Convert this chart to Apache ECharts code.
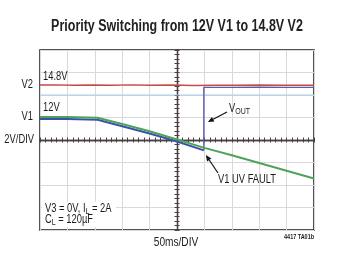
<!DOCTYPE html>
<html><head><meta charset="utf-8">
<script src="https://cdn.jsdelivr.net/npm/echarts@6/dist/echarts.min.js"></script>
<style>html,body{margin:0;padding:0;background:#fff}#c{width:337px;height:263px}</style>
</head><body><div id="c"></div>
<script>
// time in ms (50ms/DIV), voltage in V (2V/DIV)
const v2Time   = [0, 30, 60, 95, 130, 165, 200, 240, 280, 320, 360, 400, 440, 480, 500];
const v2Volts  = [14.88, 14.9, 14.86, 14.89, 14.87, 14.9, 14.86, 14.88, 14.85, 14.87, 14.86, 14.88, 14.86, 14.87, 14.86];
const v1Time   = [0, 50, 105, 150, 200, 250, 300, 350, 400, 450, 500];
const v1Volts  = [12.04, 12.04, 11.98, 11.42, 10.78, 10.04, 9.3, 8.65, 7.96, 7.27, 6.58];
const voutTime  = [0, 50, 105, 150, 200, 250, 299, 299, 350, 400, 450, 500];
const voutVolts = [11.86, 11.86, 11.8, 11.22, 10.58, 9.86, 9.08, 14.68, 14.68, 14.7, 14.68, 14.68];
const refLevel = 14;
const xMin = 0, xMax = 500, xStep = 50;
const yMin = 2, yMax = 18, yStep = 2;

const pairs = (xs, ys) => xs.map((x, i) => [x, ys[i]]);
const voutPts = pairs(voutTime, voutVolts);
const jumpIdx = voutTime.findIndex((t, i) => i > 0 && t === voutTime[i - 1]) - 1;
const FN = '"Liberation Sans", Arial, sans-serif';
const SX = 0.78;

const chart = echarts.init(document.getElementById('c'));
const centerLine = {show: true, onZero: true, lineStyle: {color: '#4a4040', width: 1.3}};
const mainX = {type: 'value', min: xMin, max: xMax, interval: xStep, axisLabel: {show: false}};
const mainY = {type: 'value', min: yMin, max: yMax, interval: yStep, axisLabel: {show: false}};
const tickC = {color: '#4a4040'};

chart.setOption({
  animation: false,
  grid: {left: 40, top: 50, width: 274, height: 180, show: true, borderColor: '#1a1a1a', borderWidth: 1.5, backgroundColor: '#fff'},
  xAxis: [
    Object.assign({}, mainX, {
      splitLine: {show: true, lineStyle: {color: '#d9d9d9', width: 1}},
      axisLine: Object.assign({}, centerLine, {onZeroAxisIndex: 1}),
      axisTick: {show: true, inside: false, length: 2.5, lineStyle: tickC},
      minorTick: {show: true, splitNumber: 5, length: 2.5, lineStyle: tickC}
    }),
    Object.assign({}, mainX, {
      position: 'bottom',
      splitLine: {show: false},
      axisLine: Object.assign({}, centerLine, {onZeroAxisIndex: 1}),
      axisTick: {show: true, inside: true, length: 2.5, lineStyle: tickC},
      minorTick: {show: true, splitNumber: 5, length: 2.5, lineStyle: tickC}
    }),
    {type: 'value', min: -5, max: 5, show: false}
  ],
  yAxis: [
    Object.assign({}, mainY, {
      splitLine: {show: true, lineStyle: {color: '#d9d9d9', width: 1}},
      axisLine: Object.assign({}, centerLine, {onZeroAxisIndex: 2}),
      axisTick: {show: true, inside: false, length: 2.5, lineStyle: tickC},
      minorTick: {show: true, splitNumber: 5, length: 2.5, lineStyle: tickC}
    }),
    {type: 'value', min: -4, max: 4, show: false},
    Object.assign({}, mainY, {
      position: 'left',
      splitLine: {show: false},
      axisLine: Object.assign({}, centerLine, {onZeroAxisIndex: 2}),
      axisTick: {show: true, inside: true, length: 2.5, lineStyle: tickC},
      minorTick: {show: true, splitNumber: 5, length: 2.5, lineStyle: tickC}
    })
  ],
  series: [
    {
      type: 'line', name: 'ref', data: [[xMin, refLevel], [xMax, refLevel]], symbol: 'none',
      lineStyle: {color: '#a9cde6', width: 1}, silent: true, z: 1
    },
    {
      type: 'line', name: 'V2', data: pairs(v2Time, v2Volts), symbol: 'none',
      lineStyle: {color: '#c8494a', width: 1.5}, z: 2
    },
    {
      type: 'line', name: 'VOUT', data: voutPts.slice(0, jumpIdx + 1), symbol: 'none',
      lineStyle: {color: '#3a52a8', width: 2}, z: 3
    },
    {
      type: 'line', name: 'VOUT (after switch)', data: voutPts.slice(jumpIdx), symbol: 'none',
      lineStyle: {color: '#5a5cb0', width: 1.4}, z: 3
    },
    {
      type: 'line', name: 'V1', data: pairs(v1Time, v1Volts), symbol: 'none',
      lineStyle: {color: '#4ea35c', width: 2}, z: 4
    }
  ]
});

const px = (x, y) => chart.convertToPixel({xAxisIndex: 0, yAxisIndex: 0}, [x, y]);
const pV2 = px(xMin, v2Volts[0]);
const pV1 = px(xMin, v1Volts[0]);
const pC = px(xMin, 10);
function label(text, x, y, align, extra) {
  return {type: 'text', x: x, y: y, z: 100, scaleX: SX,
    style: Object.assign({text: text, textAlign: align || 'left', textVerticalAlign: 'middle',
      fontFamily: FN, fontSize: 12, fill: '#1c1c1c'}, extra || {})};
}
function rich(parts, x, y) {
  return {type: 'text', x: x, y: y, z: 100, scaleX: SX,
    style: {text: parts, textVerticalAlign: 'middle',
      rich: {a: {fontFamily: FN, fontSize: 12, fill: '#1c1c1c'},
             b: {fontFamily: FN, fontSize: 9, fill: '#1c1c1c', padding: [5, 0, 0, 0]}}}};
}
function arrow(x1, y1, x2, y2) {
  const a = Math.atan2(y2 - y1, x2 - x1), L = 6, W = 2.6;
  const bx = x2 - L * Math.cos(a), by = y2 - L * Math.sin(a);
  return [
    {type: 'line', z: 100, shape: {x1: x1, y1: y1, x2: bx, y2: by}, style: {stroke: '#111', lineWidth: 1.2}},
    {type: 'polygon', z: 100, shape: {points: [[x2, y2],
      [bx - W * Math.sin(a), by + W * Math.cos(a)], [bx + W * Math.sin(a), by - W * Math.cos(a)]]},
      style: {fill: '#111'}}
  ];
}
const jumpX = px(voutTime[jumpIdx], 10)[0];
chart.setOption({
  graphic: [
    label('Priority Switching from 12V V1 to 14.8V V2', 177, 27, 'center', {fontSize: 16, fontWeight: 'bold', fill: '#222'}),
    label('V2', 33, pV2[1], 'right'),
    label('V1', 33, pV1[1], 'right'),
    label('2V/DIV', 34, pC[1], 'right'),
    label('14.8V', 43, pV2[1] - 8, 'left'),
    label('12V', 43, pV1[1] - 9, 'left'),
    rich('{a|V}{b|OUT}', 229, 109),
    ...arrow(227, 112, jumpX + 4, 122),
    label('V1 UV FAULT', 218, 180, 'left'),
    ...arrow(218, 173, jumpX + 2, 155),
    {type: 'rect', z: 90, shape: {x: 42, y: 202, width: 74, height: 25}, style: {fill: '#fff'}},
    rich('{a|V3 = 0V, I}{b|L}{a| = 2A}', 45, 209),
    rich('{a|C}{b|L}{a| = 120µF}', 45, 220),
    label('50ms/DIV', 176, 242, 'center', {fontSize: 13}),
    label('4417 TA01b', 314, 237, 'right', {fontSize: 7, fontWeight: 'bold'})
  ]
});
</script></body></html>
